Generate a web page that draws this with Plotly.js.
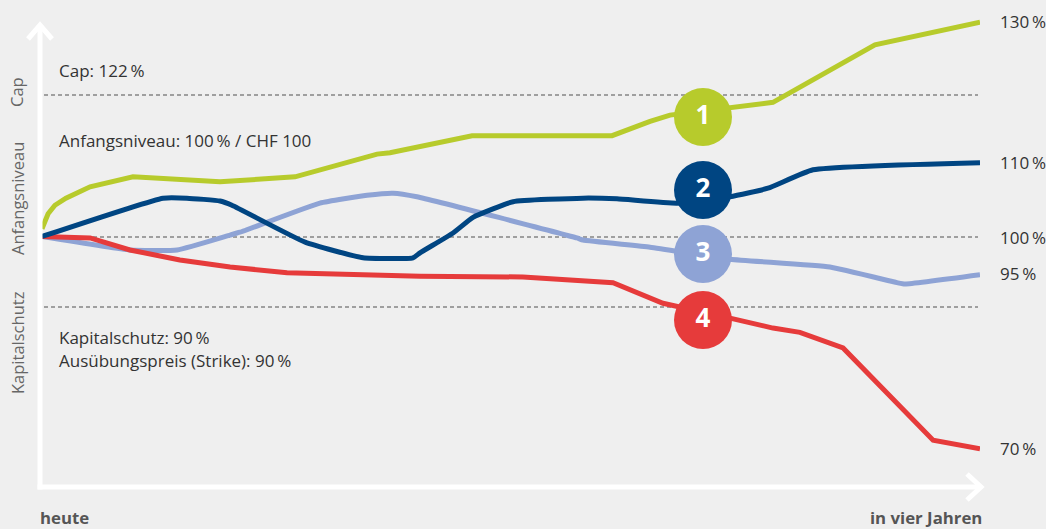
<!DOCTYPE html>
<html>
<head>
<meta charset="utf-8">
<script src="https://cdn.plot.ly/plotly-3.0.1.min.js"></script>
<style>html,body{margin:0;padding:0;background:#efefef;}#chart{width:1046px;height:529px;}</style>
</head>
<body>
<div id="chart"></div>
<script>
// ---- data (x = years from today, y = % of initial level) ----
const greenX = [0, 0.026, 0.055, 0.102, 0.205, 0.388, 0.759, 1.079, 1.429, 1.484, 1.834, 2.431, 2.593, 2.678, 3.117, 3.552, 4.0];
const greenY = [101.1, 103.2, 104.4, 105.4, 107.0, 108.4, 107.7, 108.4, 111.6, 111.8, 114.2, 114.2, 116.2, 117.1, 118.9, 127.0, 130.2];

const darkX = [0, 0.516, 0.618, 0.759, 0.810, 1.122, 1.369, 1.582, 1.612, 1.753, 1.838, 2.009, 2.307, 2.452, 2.708, 2.934, 3.096, 3.288, 4.0];
const darkY = [100, 105.4, 105.4, 105.0, 104.4, 99.2, 97.0, 97.0, 97.7, 100.5, 102.7, 104.9, 105.4, 105.3, 104.7, 105.6, 106.8, 109.4, 110.4];

const lightX = [0, 0.375, 0.576, 0.802, 0.844, 1.185, 1.386, 1.497, 1.599, 2.281, 2.307, 2.593, 2.934, 3.360, 3.646, 3.680, 4.0];
const lightY = [100, 98.1, 98.1, 100.2, 100.6, 104.7, 105.8, 106.1, 105.6, 99.8, 99.5, 98.5, 96.8, 95.7, 93.5, 93.3, 94.6];

const redX = [0, 0.205, 0.375, 0.588, 0.802, 1.045, 1.612, 2.051, 2.435, 2.648, 2.934, 3.117, 3.232, 3.416, 3.800, 4.0];
const redY = [100, 99.8, 98.1, 96.7, 95.7, 94.9, 94.4, 94.3, 93.5, 90.6, 88.5, 87.1, 86.5, 84.3, 71.3, 70.1];

const endLabels = ["130\u2009%", "110\u2009%", "100\u2009%", "95\u2009%", "70\u2009%"];
const levelLabels = ["Cap: 122\u2009%", "Anfangsniveau: 100\u2009% / CHF 100", "Kapitalschutz: 90\u2009%", "Ausübungspreis (Strike): 90\u2009%"];
const sideLabels = ["Cap", "Anfangsniveau", "Kapitalschutz"];
const badgeLabels = ["1", "2", "3", "4"];
const xLabels = ["heute", "in vier Jahren"];

// ---- styling / geometry ----
const W = 1046, H = 529;
const L = 42, R = 980, T = 10, B = 488;
const fx = p => (p - L) / (R - L);
const fy = p => (B - p) / (B - T);
const C = {green: '#b7cb2c', dark: '#004582', light: '#8ea3d5', red: '#e63b3b', bg: '#efefef'};
const FONT = '"Open Sans", "Noto Sans", sans-serif';

function lineTrace(x, y, color, shape) {
  return {x, y, type: 'scatter', mode: 'lines', hoverinfo: 'skip',
    line: {color, width: 5, shape: shape || 'linear', smoothing: 0.4}};
}
const traces = [
  lineTrace(lightX, lightY, C.light, 'spline'),
  lineTrace(redX, redY, C.red),
  lineTrace(darkX, darkY, C.dark, 'spline'),
  lineTrace(greenX, greenY, C.green),
];

const annotations = [];
function ann(text, px, py, opts) {
  annotations.push(Object.assign({text, xref: 'paper', yref: 'paper', x: fx(px), y: fy(py),
    xanchor: 'left', yanchor: 'middle', showarrow: false, borderpad: 0,
    font: {family: FONT, size: 17, color: '#333'}}, opts || {}));
}
ann(levelLabels[0], 58, 70);
ann(levelLabels[1], 58, 140);
ann(levelLabels[2], 58, 337);
ann(levelLabels[3], 58, 360);
[22, 162, 237, 273, 448].forEach((py, i) => ann(endLabels[i], 999, py));
[[92], [199], [343]].forEach((p, i) => ann(sideLabels[i], 17, p[0],
  {textangle: -90, xanchor: 'center', font: {family: FONT, size: 16.5, color: '#666'}}));
ann('<b>' + xLabels[0] + '</b>', 39, 517, {font: {family: FONT, size: 16.8, color: '#555'}});
ann('<b>' + xLabels[1] + '</b>', 983, 517, {xanchor: 'right', font: {family: FONT, size: 16.8, color: '#555'}});

// badges
const badgeColors = [C.green, C.dark, C.light, C.red];
const badgePy = [117, 190, 254, 320];
const badgeTrace = {
  type: 'scatter', mode: 'markers+text', hoverinfo: 'skip', cliponaxis: false,
  x: badgePy.map(() => (703 - L) / (R - L) * 4),
  y: badgePy.map(p => 100 + (236.5 - p) / 7.1),
  text: badgeLabels,
  textposition: 'middle center',
  textfont: {family: FONT, size: 26, color: '#ffffff', weight: 'bold'},
  marker: {size: 58, color: badgeColors, line: {width: 0}}
};
traces.push(badgeTrace);

const white = {color: '#ffffff', width: 5};
const dash = {color: '#858585', width: 1.3, dash: '4px,3px'};
const shapes = [
  {type: 'line', xref: 'paper', yref: 'paper', x0: fx(44), x1: fx(978), y0: fy(95), y1: fy(95), line: dash, layer: 'below'},
  {type: 'line', xref: 'paper', yref: 'paper', x0: fx(44), x1: fx(978), y0: fy(237), y1: fy(237), line: dash, layer: 'below'},
  {type: 'line', xref: 'paper', yref: 'paper', x0: fx(44), x1: fx(978), y0: fy(307), y1: fy(307), line: dash, layer: 'below'},
  {type: 'line', xref: 'paper', yref: 'paper', x0: fx(40), x1: fx(40), y0: fy(489.5), y1: fy(25), line: white},
  {type: 'line', xref: 'paper', yref: 'paper', x0: fx(37.5), x1: fx(980), y0: fy(487), y1: fy(487), line: white},
  {type: 'path', xref: 'paper', yref: 'paper',
    path: `M${fx(28)},${fy(39)} L${fx(40)},${fy(25)} L${fx(52)},${fy(39)}`, line: white},
  {type: 'path', xref: 'paper', yref: 'paper',
    path: `M${fx(967)},${fy(474)} L${fx(981)},${fy(487)} L${fx(967)},${fy(500)}`, line: white},
];

const yLo = 100 - (B - 236.5) / 7.1, yHi = 100 + (236.5 - T) / 7.1;
const layout = {
  width: W, height: H,
  margin: {l: L, r: W - R, t: T, b: H - B, pad: 0},
  paper_bgcolor: C.bg, plot_bgcolor: C.bg,
  showlegend: false,
  xaxis: {range: [0, 4], visible: false, fixedrange: true},
  yaxis: {range: [yLo, yHi], visible: false, fixedrange: true},
  shapes, annotations,
  font: {family: FONT}
};
Plotly.newPlot('chart', traces, layout, {displayModeBar: false, staticPlot: true});
</script>
</body>
</html>
